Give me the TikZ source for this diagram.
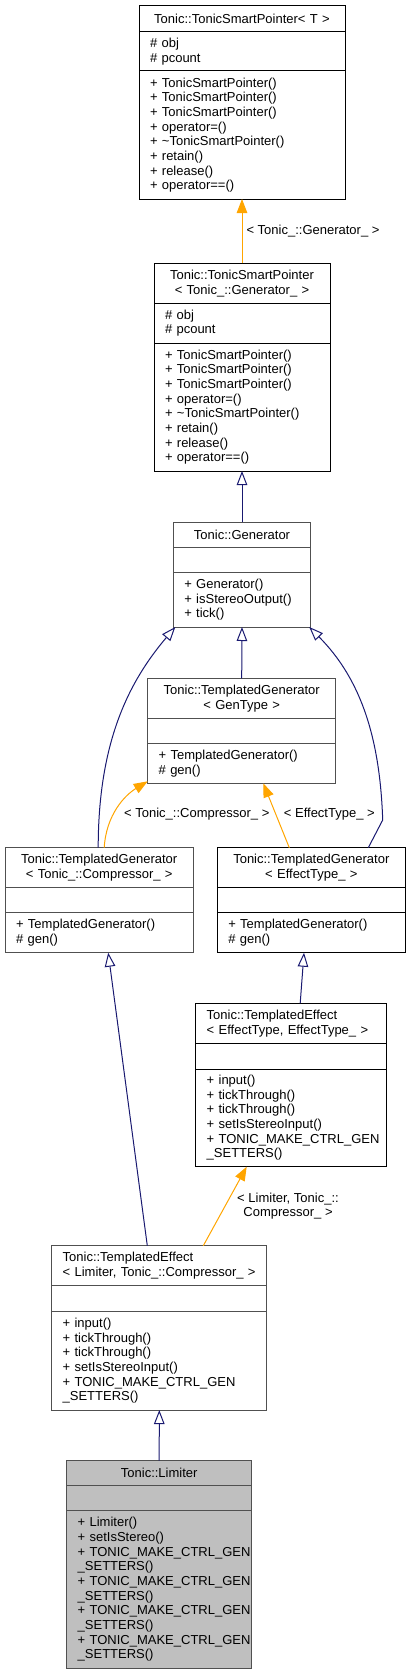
\documentclass[tikz,border=0pt]{standalone}
\usepackage{fontspec}
\setmainfont{Liberation Sans}
\usetikzlibrary{positioning,calc,arrows.meta}
\definecolor{edgeblue}{RGB}{25,25,112}
\definecolor{edgeorange}{RGB}{255,165,0}
\definecolor{boxgray}{RGB}{80,80,80}
\definecolor{limfill}{RGB}{191,191,191}
\newcommand{\dfont}{\fontsize{13}{14.67}\selectfont}
\tikzset{
  part/.style={draw, line width=1pt, outer sep=0pt, inner xsep=11pt, inner ysep=0pt, font=\dfont, align=left},
  title/.style={part, align=center},
  grayb/.style={draw=boxgray},
  inherit/.style={draw=edgeblue, line width=1pt, -{Triangle[open,length=14pt,width=10.5pt]}},
  templ/.style={draw=edgeorange, line width=1pt, -{Triangle[length=14pt,width=10.5pt,fill=edgeorange]}},
  lbl/.style={font=\dfont, inner sep=1pt, align=center}
}
\begin{document}
\begin{tikzpicture}[x=1pt,y=1pt]
    \useasboundingbox (0,0) rectangle (411,-1675);
    % TonicSmartPointer< T >
    \node[title, text width=184pt, minimum height=26pt, anchor=north] (tsp_t) at (242,-5.7) {Tonic::TonicSmartPointer< T >};
    \node[part, text width=184pt, minimum height=39.3pt] (tsp_a) [below=0pt of tsp_t] {\# obj\\\# pcount};
    \node[part, text width=184pt, minimum height=128pt] (tsp_m) [below=0pt of tsp_a] {+ TonicSmartPointer()\\+ TonicSmartPointer()\\+ TonicSmartPointer()\\+ operator=()\\+ \textasciitilde TonicSmartPointer()\\+ retain()\\+ release()\\+ operator==()};
    % TonicSmartPointer< Tonic_::Generator_ >
    \node[title, text width=154pt, minimum height=40pt, anchor=north] (tspg_t) at (242,-263.3) {Tonic::TonicSmartPointer\\< Tonic\_::Generator\_ >};
    \node[part, text width=154pt, minimum height=40pt] (tspg_a) [below=0pt of tspg_t] {\# obj\\\# pcount};
    \node[part, text width=154pt, minimum height=127.7pt] (tspg_m) [below=0pt of tspg_a] {+ TonicSmartPointer()\\+ TonicSmartPointer()\\+ TonicSmartPointer()\\+ operator=()\\+ \textasciitilde TonicSmartPointer()\\+ retain()\\+ release()\\+ operator==()};
    % Generator
    \node[title, grayb, text width=115.4pt, minimum height=25pt, anchor=north] (gen_t) at (242,-522.3) {Tonic::Generator};
    \node[part, grayb, text width=115.4pt, minimum height=25.4pt] (gen_a) [below=0pt of gen_t] {};
    \node[part, grayb, text width=115.4pt, minimum height=54.3pt] (gen_m) [below=0pt of gen_a] {+ Generator()\\+ isStereoOutput()\\+ tick()};
    % TemplatedGenerator< GenType >
    \node[title, grayb, text width=166pt, minimum height=40pt, anchor=north] (tgt_t) at (241.7,-678.3) {Tonic::TemplatedGenerator\\< GenType >};
    \node[part, grayb, text width=166pt, minimum height=25pt] (tgt_a) [below=0pt of tgt_t] {};
    \node[part, grayb, text width=166pt, minimum height=40pt] (tgt_m) [below=0pt of tgt_a] {+ TemplatedGenerator()\\\# gen()};
    % TemplatedGenerator< Tonic_::Compressor_ >
    \node[title, grayb, text width=166.3pt, minimum height=39.6pt, anchor=north] (tgc_t) at (99.2,-847.7) {Tonic::TemplatedGenerator\\< Tonic\_::Compressor\_ >};
    \node[part, grayb, text width=166.3pt, minimum height=25.4pt] (tgc_a) [below=0pt of tgc_t] {};
    \node[part, grayb, text width=166.3pt, minimum height=40pt] (tgc_m) [below=0pt of tgc_a] {+ TemplatedGenerator()\\\# gen()};
    % TemplatedGenerator< EffectType_ >
    \node[title, text width=166pt, minimum height=39.6pt, anchor=north] (tge_t) at (311.3,-847.7) {Tonic::TemplatedGenerator\\< EffectType\_ >};
    \node[part, text width=166pt, minimum height=25.4pt] (tge_a) [below=0pt of tge_t] {};
    \node[part, text width=166pt, minimum height=40pt] (tge_m) [below=0pt of tge_a] {+ TemplatedGenerator()\\\# gen()};
    % TemplatedEffect< EffectType, EffectType_ >
    \node[part, text width=169pt, minimum height=40pt, anchor=north] (tee_t) at (291.2,-1003.3) {Tonic::TemplatedEffect\\< EffectType, EffectType\_ >};
    \node[part, text width=169pt, minimum height=25.7pt] (tee_a) [below=0pt of tee_t] {};
    \node[part, text width=169pt, minimum height=97.7pt] (tee_m) [below=0pt of tee_a] {+ input()\\+ tickThrough()\\+ tickThrough()\\+ setIsStereoInput()\\+~TONIC\_MAKE\_CTRL\_GEN\\\_SETTERS()};
    % TemplatedEffect< Limiter, Tonic_::Compressor_ >
    \node[part, grayb, text width=193.3pt, minimum height=40pt, anchor=north] (tel_t) at (159.3,-1245.7) {Tonic::TemplatedEffect\\< Limiter, Tonic\_::Compressor\_ >};
    \node[part, grayb, text width=193.3pt, minimum height=26pt] (tel_a) [below=0pt of tel_t] {};
    \node[part, grayb, text width=193.3pt, minimum height=98.3pt] (tel_m) [below=0pt of tel_a] {+ input()\\+ tickThrough()\\+ tickThrough()\\+ setIsStereoInput()\\+~TONIC\_MAKE\_CTRL\_GEN\\\_SETTERS()};
    % Limiter
    \node[title, grayb, fill=limfill, text width=163pt, minimum height=25pt, anchor=north] (lim_t) at (159.2,-1460.7) {Tonic::Limiter};
    \node[part, grayb, fill=limfill, text width=163pt, minimum height=25pt] (lim_a) [below=0pt of lim_t] {};
    \node[part, grayb, fill=limfill, text width=163pt, minimum height=157.6pt] (lim_m) [below=0pt of lim_a] {+ Limiter()\\+ setIsStereo()\\+~TONIC\_MAKE\_CTRL\_GEN\\\_SETTERS()\\+~TONIC\_MAKE\_CTRL\_GEN\\\_SETTERS()\\+~TONIC\_MAKE\_CTRL\_GEN\\\_SETTERS()\\+~TONIC\_MAKE\_CTRL\_GEN\\\_SETTERS()};
    % edges
    \draw[templ] (tspg_t.north) -- node[lbl, anchor=west, xshift=3pt] (lbl_gen) {< Tonic\_::Generator\_ >} (tsp_m.south);
    \draw[inherit] (gen_t.north) -- (tspg_m.south);
    \draw[inherit] (tgt_t.north) -- (gen_m.south);
    \draw[inherit] ([xshift=-1pt]tgc_t.north) .. controls +(0,108) and +(-45,-53) .. ([xshift=2pt]gen_m.south west);
    \draw[templ] ([xshift=5pt]tgc_t.north) .. controls +(2,33) and +(-23,-14) .. ([yshift=2pt]tgt_m.south west);
    \draw[templ] ([xshift=-22pt]tge_t.north) -- ([xshift=21.6pt]tgt_m.south);
    \draw[inherit] ([xshift=57pt]tge_t.north) -- ++(14.4,27.7) .. controls +(-2.7,80) and +(52.7,-53) .. ([xshift=-1.5pt]gen_m.south east);
    \draw[inherit] ([xshift=-12pt]tel_t.north) -- ([xshift=9pt]tgc_m.south);
    \draw[inherit] ([xshift=9pt]tee_t.north) -- ([xshift=-7.3pt]tge_m.south);
    \draw[templ] ([xshift=44pt]tel_t.north) -- ([xshift=-44.5pt]tee_m.south);
    \draw[inherit] (lim_t.north) -- (tel_m.south);
    \node[lbl] (lbl_comp) at (196.8,-814.3) {< Tonic\_::Compressor\_ >};
    \node[lbl] (lbl_eff) at (329.3,-814.3) {< EffectType\_ >};
    \node[lbl] (lbl_lim) at (288,-1206) {< Limiter, Tonic\_::\\Compressor\_ >};
\end{tikzpicture}
\end{document}
